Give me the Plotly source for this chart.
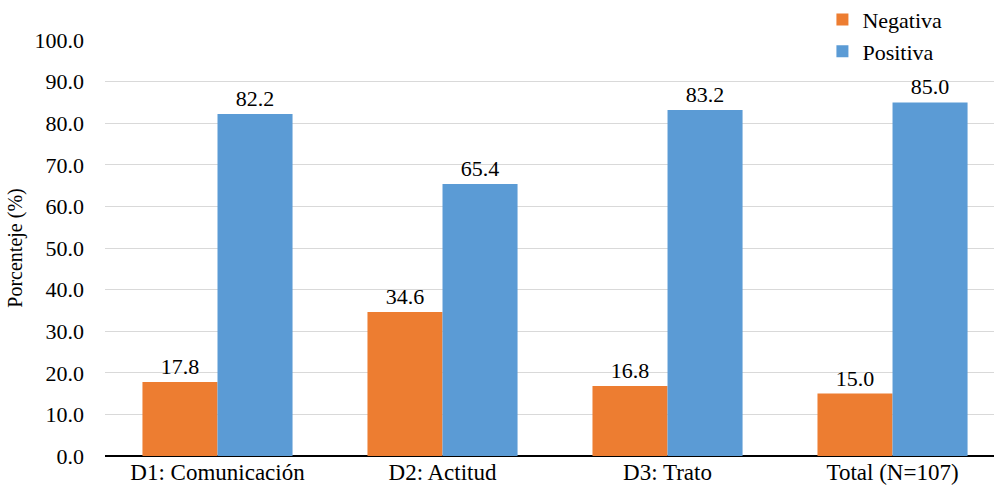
import plotly.graph_objects as go

categories = ["D1: Comunicación", "D2: Actitud", "D3: Trato", "Total (N=107)"]
negativa = [17.8, 34.6, 16.8, 15.0]
positiva = [82.2, 65.4, 83.2, 85.0]
y_ticks = [0, 10, 20, 30, 40, 50, 60, 70, 80, 90, 100]

FONT = "Liberation Serif"
FS = 22

fig = go.Figure()
fig.add_trace(go.Bar(
    name="Negativa", x=categories, y=negativa,
    marker=dict(color="#ED7D31", line=dict(width=0)),
    text=[f"{v:.1f}" for v in negativa], textposition="outside",
    textfont=dict(family=FONT, size=FS, color="#000"),
    cliponaxis=False, legendgroup="n",
))
fig.add_trace(go.Bar(
    name="Positiva", x=categories, y=positiva,
    marker=dict(color="#5B9BD5", line=dict(width=0)),
    text=[f"{v:.1f}" for v in positiva], textposition="outside",
    textfont=dict(family=FONT, size=FS, color="#000"),
    cliponaxis=False, legendgroup="p",
))

fig.update_layout(
    width=994, height=496,
    margin=dict(l=105, r=0, t=40, b=40, autoexpand=False),
    paper_bgcolor="white", plot_bgcolor="white",
    barmode="group", bargap=0.333, bargroupgap=0,
    font=dict(family=FONT, size=FS, color="#000"),
    showlegend=True,
    legend=dict(
        x=0.807, y=1.099, xanchor="left", yanchor="top",
        bgcolor="rgba(0,0,0,0)", font=dict(family=FONT, size=FS),
        tracegroupgap=4, traceorder="normal",
    ),
    xaxis=dict(
        type="category", range=[-0.5, 3.451],
        showgrid=False, showline=False, ticks="",
        tickfont=dict(family=FONT, size=23),
    ),
    yaxis=dict(
        range=[0, 100], tickvals=y_ticks,
        ticktext=[f"{v:.1f}" for v in y_ticks],
        showgrid=True, gridcolor="#D9D9D9", gridwidth=1,
        zeroline=True, zerolinecolor="#000", zerolinewidth=1.5,
        ticks="", ticklabelstandoff=20,
        tickfont=dict(family=FONT, size=FS),
        title=dict(text="Porcenteje (%)", font=dict(family=FONT, size=20), standoff=6),
    ),
)

fig.write_html("out.html", post_script="document.body.style.margin='0';",
               config={"displayModeBar": False})
